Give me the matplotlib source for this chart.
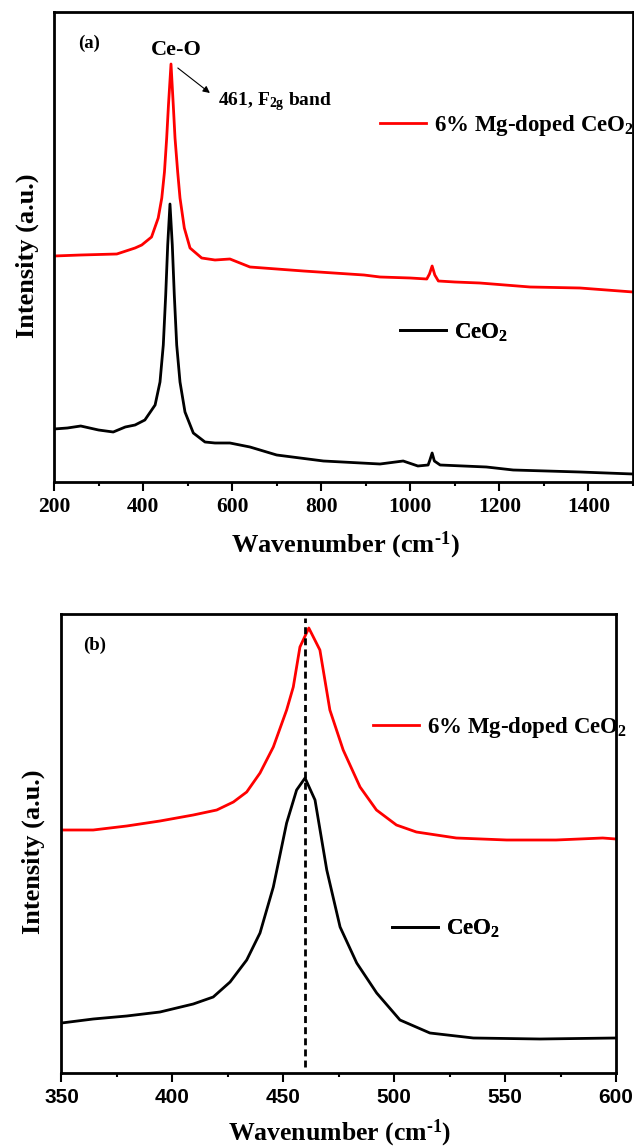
import numpy as np
import matplotlib
matplotlib.use('Agg')
import matplotlib.pyplot as plt

plt.rcParams['font.family'] = ['Liberation Serif', 'DejaVu Serif']
plt.rcParams['font.weight'] = 'bold'
plt.rcParams['mathtext.fontset'] = 'custom'
plt.rcParams['mathtext.rm'] = 'Liberation Serif:bold'
plt.rcParams['mathtext.it'] = 'Liberation Serif:bold:italic'
plt.rcParams['mathtext.bf'] = 'Liberation Serif:bold'
plt.rcParams['mathtext.default'] = 'rm'

# (a) full Raman spectra, wavenumber (cm-1) vs intensity (a.u.)
wn_mg_a = [200, 260, 341, 382, 397, 419, 434, 442, 448, 453, 457, 462.7, 467.8, 471.7,
           477.7, 482.9, 492.6, 505.4, 531.6, 561.5, 595, 640, 700, 760, 896, 932,
           1000, 1037, 1043, 1049, 1055, 1063, 1100, 1156, 1269, 1381, 1500]
int_mg_a = [226, 227, 228, 234, 237, 245, 264, 284, 310, 344, 377, 418, 377, 344,
            310, 284, 254, 234, 224, 222, 223, 215, 213, 211, 207, 205,
            204, 203, 208, 216, 207, 201, 200, 199, 195, 194, 190]

wn_ceo2_a = [200, 230, 260, 300, 333, 360, 382, 404, 427, 438, 445.4, 450.8, 455.3,
             460.4, 465.6, 470.1, 475.5, 482.9, 494.1, 512.8, 539, 561.5, 595, 640,
             700, 805, 932, 984, 1017, 1040, 1044, 1049, 1054, 1067, 1171, 1231,
             1381, 1500]
int_ceo2_a = [53, 54, 56, 52, 50, 55, 57, 62, 77, 100, 137, 187, 237,
              278, 237, 187, 137, 100, 70, 49, 40, 39, 39, 35,
              27, 21, 18, 21, 16, 17, 22, 29, 21, 17, 15, 12,
              10, 8]

# (b) zoom on the F2g band
wn_mg_b = [350, 364.3, 379.4, 394.4, 409.4, 420, 427.5, 433.5, 439.5, 445.5, 451.5,
           454.5, 457.5, 461.5, 466.5, 471, 477, 484.6, 492, 501, 510, 528, 550.7,
           573, 594, 600]
int_mg_b = [243, 243, 247, 252, 258, 263, 271, 281, 300, 326, 363,
            386, 426, 445, 423, 363, 323, 286, 263, 248, 241, 235, 233,
            233, 235, 234]

wn_ceo2_b = [350, 364.3, 379.4, 394.4, 409.4, 418.4, 426, 433.5, 439.5, 445.5, 451.5,
             456, 459.8, 464.3, 469.6, 475.6, 483.1, 492.1, 502.6, 516.1, 535.7,
             565.7, 600]
int_ceo2_b = [50, 54, 57, 61, 69, 76, 91, 113, 140, 186, 250,
              283, 295, 273, 203, 146, 110, 80, 53, 40, 35,
              34, 35]

label_mg = '6% Mg-doped CeO$_2$'
label_ceo2 = 'CeO$_2$'
xlabel = 'Wavenumber (cm$^{\u2010 1}$)'
ylabel = 'Intensity (a.u.)'

W, H = 634, 1147
fig = plt.figure(figsize=(W / 100, H / 100), dpi=100)


def style_axes(ax, tick_font):
    for s in ax.spines.values():
        s.set_linewidth(2)
    ax.set_yticks([])
    ax.tick_params(axis='x', which='major', direction='out', length=6.5, width=1.5, pad=4)
    ax.tick_params(axis='x', which='minor', direction='out', length=3, width=1.5)
    for lab in ax.get_xticklabels():
        lab.set_fontfamily(tick_font)
        lab.set_fontweight('bold')


def add_legend(ax, handle, text, x, y):
    leg = ax.legend([handle], [text], loc='center left', bbox_to_anchor=(x, y),
                    frameon=False, fontsize=16.5, handlelength=2.0, handletextpad=0.35,
                    borderpad=0, borderaxespad=0)
    ax.add_artist(leg)


# ---- panel (a)
ax1 = fig.add_axes([54 / W, 1 - 482 / H, 579 / W, 470 / H])
l_mg, = ax1.plot(wn_mg_a, int_mg_a, color='#ff0000', lw=2)
l_ce, = ax1.plot(wn_ceo2_a, int_ceo2_a, color='black', lw=2)
ax1.set_xlim(200, 1500)
ax1.set_ylim(0, 470)
ax1.set_xticks(np.arange(200, 1401, 200))
ax1.set_xticks(np.arange(300, 1501, 200), minor=True)
ax1.tick_params(labelsize=15.5)
style_axes(ax1, 'Liberation Serif')
ax1.set_xlabel(xlabel, fontsize=19, fontweight='bold', va='center')
ax1.xaxis.set_label_coords(0.5026, -0.134)
ax1.set_ylabel(ylabel, fontsize=19, fontweight='bold', va='center')
ax1.yaxis.set_label_coords(-0.0466, 0.481)
add_legend(ax1, l_mg, label_mg, 0.563, 0.758)
add_legend(ax1, l_ce, label_ceo2, 0.5976, 0.318)
ax1.text(279, 439, '(a)', fontsize=13.5, ha='center', va='center')
ax1.text(474, 432, 'Ce-O', fontsize=16, ha='center', va='center')
ax1.annotate('', xy=(550, 389), xytext=(478, 414),
             arrowprops=dict(arrowstyle='-|>', color='black', lw=0.8,
                             mutation_scale=10, shrinkA=0, shrinkB=0))
ax1.text(568, 380, '461, F$_{2g}$ band', fontsize=14, ha='left', va='center')

# ---- panel (b)
ax2 = fig.add_axes([61.5 / W, 1 - 1073 / H, 554.5 / W, 459 / H])
m_mg, = ax2.plot(wn_mg_b, int_mg_b, color='#ff0000', lw=2)
m_ce, = ax2.plot(wn_ceo2_b, int_ceo2_b, color='black', lw=2)
ax2.axvline(460, ymin=0.013, ymax=0.991, color='black', lw=2, ls=(0, (2.5, 1.5)))
ax2.set_xlim(350, 600)
ax2.set_ylim(0, 459)
ax2.set_xticks(np.arange(350, 601, 50))
ax2.set_xticks(np.arange(375, 600, 50), minor=True)
ax2.tick_params(labelsize=15)
style_axes(ax2, 'Liberation Sans')
ax2.set_xlabel(xlabel, fontsize=18.5, fontweight='bold', va='center')
ax2.xaxis.set_label_coords(0.502, -0.131)
ax2.set_ylabel(ylabel, fontsize=19, fontweight='bold', va='center')
ax2.yaxis.set_label_coords(-0.0514, 0.4826)
add_legend(ax2, m_mg, label_mg, 0.5618, 0.752)
add_legend(ax2, m_ce, label_ceo2, 0.596, 0.314)
ax2.text(365, 428, '(b)', fontsize=13.5, ha='center', va='center')

fig.savefig('out.png', dpi=100)
